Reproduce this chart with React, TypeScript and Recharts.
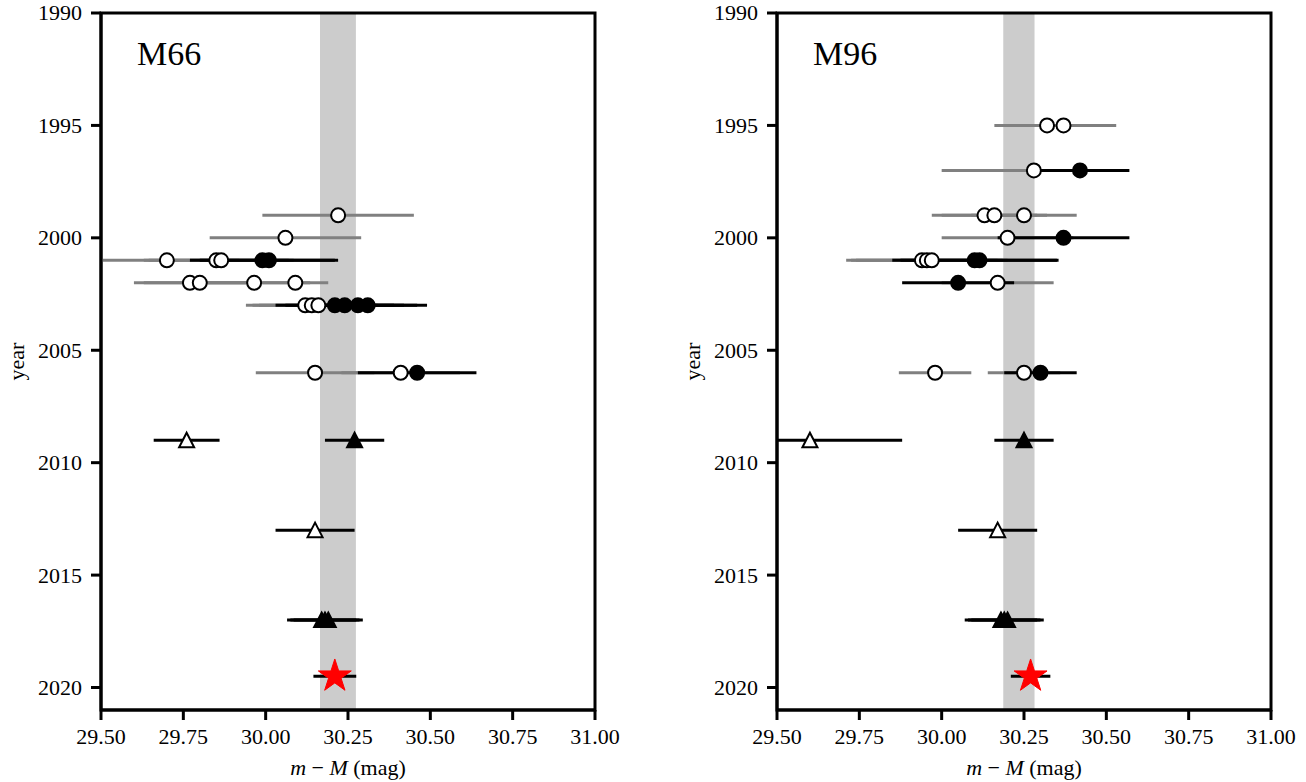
import React from 'react';
import { ScatterChart, Scatter, XAxis, YAxis, ErrorBar, ReferenceArea, Label } from 'recharts';

type Pt = { m: number; year: number; err: number };

const magTicks = [29.5, 29.75, 30.0, 30.25, 30.5, 30.75, 31.0];
const yearTicks = [1990, 1995, 2000, 2005, 2010, 2015, 2020];
const magDomain = [29.5, 31];
const yearDomain = [1990, 2021];

// M66
const m66Band = [30.165, 30.274];
const m66OpenCircles: Pt[] = [
  { m: 30.22, year: 1999, err: 0.23 },
  { m: 30.06, year: 2000, err: 0.23 },
  { m: 29.7, year: 2001, err: 0.22 },
  { m: 29.85, year: 2001, err: 0.22 },
  { m: 29.865, year: 2001, err: 0.22 },
  { m: 29.77, year: 2002, err: 0.17 },
  { m: 29.8, year: 2002, err: 0.17 },
  { m: 29.965, year: 2002, err: 0.17 },
  { m: 30.09, year: 2002, err: 0.1 },
  { m: 30.12, year: 2003, err: 0.18 },
  { m: 30.14, year: 2003, err: 0.18 },
  { m: 30.16, year: 2003, err: 0.18 },
  { m: 30.15, year: 2006, err: 0.18 },
  { m: 30.41, year: 2006, err: 0.18 },
];
const m66FilledCircles: Pt[] = [
  { m: 29.99, year: 2001, err: 0.22 },
  { m: 30.01, year: 2001, err: 0.21 },
  { m: 30.21, year: 2003, err: 0.18 },
  { m: 30.24, year: 2003, err: 0.18 },
  { m: 30.28, year: 2003, err: 0.18 },
  { m: 30.31, year: 2003, err: 0.18 },
  { m: 30.46, year: 2006, err: 0.18 },
];
const m66OpenTriangles: Pt[] = [
  { m: 29.76, year: 2009, err: 0.1 },
  { m: 30.15, year: 2013, err: 0.12 },
];
const m66FilledTriangles: Pt[] = [
  { m: 30.27, year: 2009, err: 0.09 },
  { m: 30.17, year: 2017, err: 0.105 },
  { m: 30.18, year: 2017, err: 0.105 },
  { m: 30.19, year: 2017, err: 0.105 },
];
const m66Star: Pt[] = [{ m: 30.21, year: 2019.5, err: 0.065 }];

// M96
const m96Band = [30.187, 30.282];
const m96OpenCircles: Pt[] = [
  { m: 30.32, year: 1995, err: 0.16 },
  { m: 30.37, year: 1995, err: 0.16 },
  { m: 30.28, year: 1997, err: 0.28 },
  { m: 30.13, year: 1999, err: 0.16 },
  { m: 30.16, year: 1999, err: 0.16 },
  { m: 30.25, year: 1999, err: 0.16 },
  { m: 30.2, year: 2000, err: 0.2 },
  { m: 29.94, year: 2001, err: 0.23 },
  { m: 29.955, year: 2001, err: 0.23 },
  { m: 29.97, year: 2001, err: 0.23 },
  { m: 30.17, year: 2002, err: 0.17 },
  { m: 29.98, year: 2006, err: 0.11 },
  { m: 30.25, year: 2006, err: 0.11 },
];
const m96FilledCircles: Pt[] = [
  { m: 30.42, year: 1997, err: 0.15 },
  { m: 30.37, year: 2000, err: 0.2 },
  { m: 30.1, year: 2001, err: 0.25 },
  { m: 30.115, year: 2001, err: 0.24 },
  { m: 30.05, year: 2002, err: 0.17 },
  { m: 30.3, year: 2006, err: 0.11 },
];
const m96OpenTriangles: Pt[] = [
  { m: 29.6, year: 2009, err: 0.28 },
  { m: 30.17, year: 2013, err: 0.12 },
];
const m96FilledTriangles: Pt[] = [
  { m: 30.25, year: 2009, err: 0.09 },
  { m: 30.18, year: 2017, err: 0.11 },
  { m: 30.19, year: 2017, err: 0.11 },
  { m: 30.2, year: 2017, err: 0.11 },
];
const m96Star: Pt[] = [{ m: 30.27, year: 2019.5, err: 0.06 }];

const FONT = '"Liberation Serif", "DejaVu Serif", serif';

// error bars are cut at the axis limits, like matplotlib's clipping
const clipErr = (pts: Pt[]) =>
  pts.map((p) => ({
    ...p,
    bar: [Math.min(p.err, p.m - magDomain[0]), Math.min(p.err, magDomain[1] - p.m)],
  }));

const XTick = ({ x, y, payload }: any) => (
  <text x={x} y={y} dy="0.75em" textAnchor="middle" fontFamily={FONT} fontSize={22} fill="#000">
    {Number(payload.value).toFixed(2)}
  </text>
);
const YTick = ({ x, y, payload }: any) => (
  <text x={x} y={y} dy="0.34em" textAnchor="end" fontFamily={FONT} fontSize={22} fill="#000">
    {payload.value}
  </text>
);

const Empty = () => <g />;
const OpenCircle = ({ cx, cy }: any) => (
  <circle cx={cx} cy={cy} r={7} fill="#fff" stroke="#000" strokeWidth={2} />
);
const FilledCircle = ({ cx, cy }: any) => (
  <circle cx={cx} cy={cy} r={7} fill="#000" stroke="#000" strokeWidth={2} />
);
const triPath = (cx: number, cy: number) =>
  `M${cx},${cy - 7.5} L${cx + 7.5},${cy + 7} L${cx - 7.5},${cy + 7} Z`;
const OpenTriangle = ({ cx, cy }: any) => (
  <path d={triPath(cx, cy)} fill="#fff" stroke="#000" strokeWidth={2} />
);
const FilledTriangle = ({ cx, cy }: any) => (
  <path d={triPath(cx, cy)} fill="#000" stroke="#000" strokeWidth={2} />
);
const Star = ({ cx, cy }: any) => {
  const R = 17.3;
  const r = R * 0.382;
  const pts: string[] = [];
  for (let i = 0; i < 10; i++) {
    const a = (Math.PI / 5) * i - Math.PI / 2;
    const rad = i % 2 === 0 ? R : r;
    pts.push(`${cx + rad * Math.cos(a)},${cy + rad * Math.sin(a)}`);
  }
  return <polygon points={pts.join(' ')} fill="#ff0000" stroke="#ff0000" strokeWidth={1} />;
};

type PanelProps = {
  name: string;
  band: number[];
  openCircles: Pt[];
  filledCircles: Pt[];
  openTriangles: Pt[];
  filledTriangles: Pt[];
  star: Pt[];
};

function Panel({ name, band, openCircles, filledCircles, openTriangles, filledTriangles, star }: PanelProps) {
  const grayBars = clipErr(openCircles);
  const blackBars = clipErr([...filledCircles, ...openTriangles, ...filledTriangles, ...star]);
  return (
    <ScatterChart width={630} height={782} margin={{ top: 13, right: 35, bottom: 0, left: 0 }}>
      <XAxis
        type="number"
        dataKey="m"
        domain={magDomain}
        ticks={magTicks}
        allowDataOverflow
        height={72}
        tickSize={10}
        tickMargin={7}
        tick={<XTick />}
        axisLine={{ stroke: '#000', strokeWidth: 3 }}
        tickLine={{ stroke: '#000', strokeWidth: 3 }}
        interval={0}
      >
        <Label
          content={({ viewBox }: any) => (
            <text
              x={viewBox.x + viewBox.width / 2}
              y={viewBox.y + 65}
              textAnchor="middle"
              fontFamily={FONT}
              fontSize={22}
              fill="#000"
            >
              <tspan fontStyle="italic">m</tspan>
              <tspan> − </tspan>
              <tspan fontStyle="italic">M</tspan>
              <tspan>  (mag)</tspan>
            </text>
          )}
        />
      </XAxis>
      <YAxis
        type="number"
        dataKey="year"
        domain={yearDomain}
        reversed
        ticks={yearTicks}
        allowDataOverflow
        width={101}
        tickSize={10}
        tickMargin={9}
        tick={<YTick />}
        axisLine={{ stroke: '#000', strokeWidth: 3 }}
        tickLine={{ stroke: '#000', strokeWidth: 3 }}
        interval={0}
      >
        <Label
          content={({ viewBox }: any) => {
            const x = 24;
            const y = viewBox.y + viewBox.height / 2;
            return (
              <text
                x={x}
                y={y}
                transform={`rotate(-90 ${x} ${y})`}
                textAnchor="middle"
                fontFamily={FONT}
                fontSize={22}
                fill="#000"
              >
                year
              </text>
            );
          }}
        />
      </YAxis>
      <ReferenceArea x1={band[0]} x2={band[1]} fill="#cccccc" fillOpacity={1} stroke="none" ifOverflow="hidden" />
      <Scatter data={grayBars} shape={Empty} isAnimationActive={false}>
        <ErrorBar dataKey="bar" direction="x" width={0} stroke="#808080" strokeWidth={3} isAnimationActive={false} />
      </Scatter>
      <Scatter data={blackBars} shape={Empty} isAnimationActive={false}>
        <ErrorBar dataKey="bar" direction="x" width={0} stroke="#000" strokeWidth={3} isAnimationActive={false} />
      </Scatter>
      <Scatter data={openCircles} shape={OpenCircle} isAnimationActive={false} />
      <Scatter data={filledCircles} shape={FilledCircle} isAnimationActive={false} />
      <Scatter data={openTriangles} shape={OpenTriangle} isAnimationActive={false} />
      <Scatter data={filledTriangles} shape={FilledTriangle} isAnimationActive={false} />
      <Scatter data={star} shape={Star} isAnimationActive={false} />
      <ReferenceArea
        x1={magDomain[0]}
        x2={magDomain[1]}
        y1={yearDomain[0]}
        y2={yearDomain[1]}
        fill="none"
        stroke="#000"
        strokeWidth={3}
        ifOverflow="visible"
      >
        <Label
          content={({ viewBox }: any) => (
            <text x={viewBox.x + 36} y={viewBox.y + 52} fontFamily={FONT} fontSize={34} fill="#000">
              {name}
            </text>
          )}
        />
      </ReferenceArea>
    </ScatterChart>
  );
}

export default function App() {
  return (
    <div style={{ position: 'absolute', left: 0, top: 0, width: 1306, height: 782, background: '#fff' }}>
      <div style={{ position: 'absolute', left: 0, top: 0 }}>
        <Panel
          name="M66"
          band={m66Band}
          openCircles={m66OpenCircles}
          filledCircles={m66FilledCircles}
          openTriangles={m66OpenTriangles}
          filledTriangles={m66FilledTriangles}
          star={m66Star}
        />
      </div>
      <div style={{ position: 'absolute', left: 676, top: 0 }}>
        <Panel
          name="M96"
          band={m96Band}
          openCircles={m96OpenCircles}
          filledCircles={m96FilledCircles}
          openTriangles={m96OpenTriangles}
          filledTriangles={m96FilledTriangles}
          star={m96Star}
        />
      </div>
    </div>
  );
}
